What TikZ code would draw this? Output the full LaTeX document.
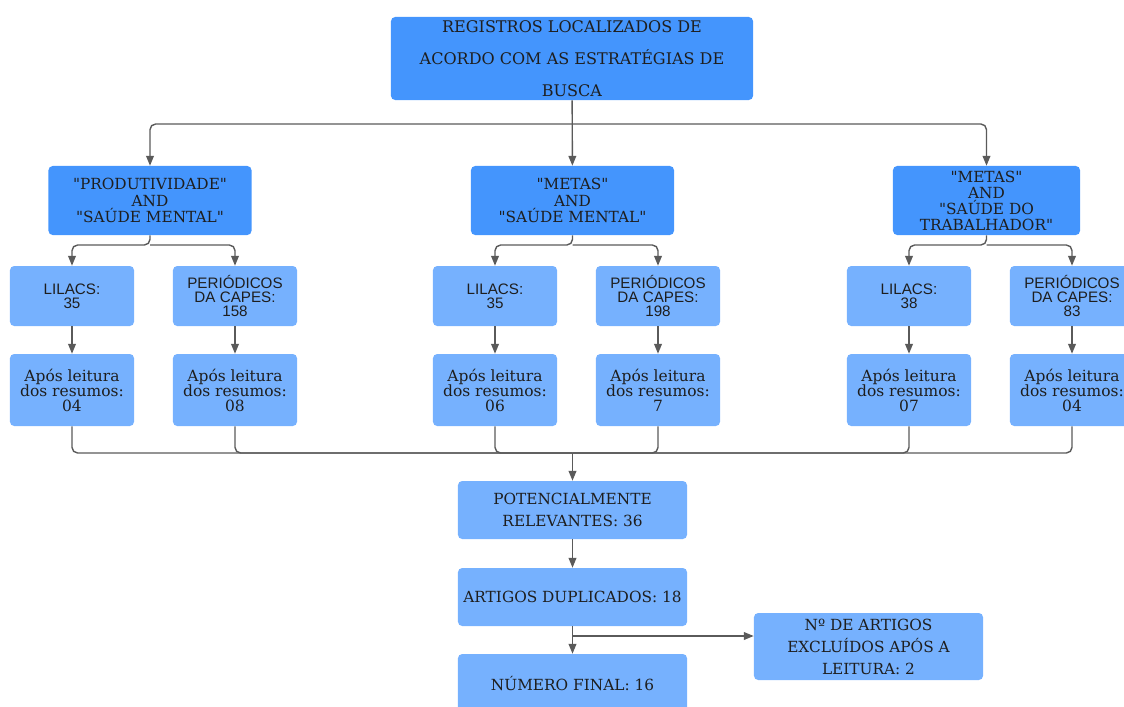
\documentclass[tikz,border=0pt]{standalone}
\usepackage{fontspec}
\setmainfont{DejaVu Serif}[Ligatures=TeXOff]
\newfontfamily\boxsans{Liberation Sans}
\usetikzlibrary{arrows.meta}
\definecolor{deepblue}{HTML}{4495FD}
\definecolor{paleblue}{HTML}{76B1FE}
\definecolor{linegray}{HTML}{5A5A5A}
\definecolor{inkgray}{HTML}{1E1E1E}
\begin{document}
\begin{tikzpicture}[x=0.025cm,y=-0.025cm,
        box/.style={rounded corners=3pt,align=center,inner sep=0pt,text=inkgray},
        topbox/.style={box,fill=deepblue,minimum width=9.05cm,minimum height=2.075cm,font=\fontsize{11.4}{22.8}\selectfont},
        querybox/.style={box,fill=deepblue,minimum width=5.075cm,minimum height=1.725cm,font=\fontsize{10.9}{12}\selectfont},
        basebox/.style={box,fill=paleblue,minimum width=3.1cm,minimum height=1.5cm,font=\boxsans\fontsize{10.8}{10}\selectfont},
        readbox/.style={box,fill=paleblue,minimum width=3.1cm,minimum height=1.8cm,font=\fontsize{11}{10.7}\selectfont},
        stagebox/.style={box,fill=paleblue,minimum width=5.725cm,minimum height=1.45cm,font=\fontsize{10.9}{15.6}\selectfont},
        link/.style={draw=linegray,line width=1pt,rounded corners=4pt},
        arrow/.style={link,-{Triangle[length=7pt,width=5.5pt]}}]
    \useasboundingbox (0,0) rectangle (1124,706);
    \clip (0,0) rectangle (1124,706);
    \node[topbox] (top) at (572,58.5) {REGISTROS LOCALIZADOS DE\\ACORDO COM AS ESTRATÉGIAS DE\\BUSCA};
    \node[querybox] (qa) at (150,200.5) {"PRODUTIVIDADE"\\AND\\"SAÚDE MENTAL"};
    \node[querybox] (qb) at (572.5,200.5) {"METAS"\\AND\\"SAÚDE MENTAL"};
    \node[querybox,minimum width=4.675cm,font=\fontsize{10.9}{11.4}\selectfont] (qc) at (986.5,200.5) {"METAS"\\AND\\"SAÚDE DO\\TRABALHADOR"};
    \node[basebox] (lilA) at (72,296) {LILACS:\\35};
    \node[basebox] (capA) at (235,296) {PERIÓDICOS\\DA CAPES:\\158};
    \node[basebox] (lilB) at (495,296) {LILACS:\\35};
    \node[basebox] (capB) at (658,296) {PERIÓDICOS\\DA CAPES:\\198};
    \node[basebox] (lilC) at (909,296) {LILACS:\\38};
    \node[basebox] (capC) at (1072,296) {PERIÓDICOS\\DA CAPES:\\83};
    \node[readbox] (readA) at (72,390) {Após leitura\\dos resumos:\\04};
    \node[readbox] (readB) at (235,390) {Após leitura\\dos resumos:\\08};
    \node[readbox] (readC) at (495,390) {Após leitura\\dos resumos:\\06};
    \node[readbox] (readD) at (658,390) {Após leitura\\dos resumos:\\7};
    \node[readbox] (readE) at (909,390) {Após leitura\\dos resumos:\\07};
    \node[readbox] (readF) at (1072,390) {Após leitura\\dos resumos:\\04};
    \node[stagebox] (pot) at (572.5,510) {POTENCIALMENTE\\RELEVANTES: 36};
    \node[stagebox] (dup) at (572.5,597) {ARTIGOS DUPLICADOS: 18};
    \node[stagebox] (fin) at (572.5,683) {NÚMERO FINAL: 16};
    \node[stagebox,minimum height=1.675cm] (excl) at (868.5,646.5) {Nº DE ARTIGOS\\EXCLUÍDOS APÓS A\\LEITURA: 2};
    \coordinate (busTop) at (572.5,124);
    \coordinate (forkA) at (150,245);
    \coordinate (forkB) at (572.5,245);
    \coordinate (forkC) at (986.5,245);
    \coordinate (busLow) at (572.5,453);
    \coordinate (split) at (572.5,636);
    \draw[arrow] (top) -- (qb);
    \draw[arrow] (busTop) -| (qa);
    \draw[arrow] (busTop) -| (qc);
    \draw[arrow] (qa) -- (forkA) -| (lilA);
    \draw[arrow] (forkA) -| (capA);
    \draw[arrow] (qb) -- (forkB) -| (lilB);
    \draw[arrow] (forkB) -| (capB);
    \draw[arrow] (qc) -- (forkC) -| (lilC);
    \draw[arrow] (forkC) -| (capC);
    \draw[arrow] (lilA) -- (readA);
    \draw[arrow] (capA) -- (readB);
    \draw[arrow] (lilB) -- (readC);
    \draw[arrow] (capB) -- (readD);
    \draw[arrow] (lilC) -- (readE);
    \draw[arrow] (capC) -- (readF);
    \draw[link] (readA) |- (busLow);
    \draw[link] (readB) |- (busLow);
    \draw[link] (readC) |- (busLow);
    \draw[link] (readD) |- (busLow);
    \draw[link] (readE) |- (busLow);
    \draw[link] (readF) |- (busLow);
    \draw[arrow] (busLow) -- (pot);
    \draw[arrow] (pot) -- (dup);
    \draw[arrow] (dup) -- (fin);
    \draw[arrow] (split) -- (split -| excl.west);
\end{tikzpicture}
\end{document}
